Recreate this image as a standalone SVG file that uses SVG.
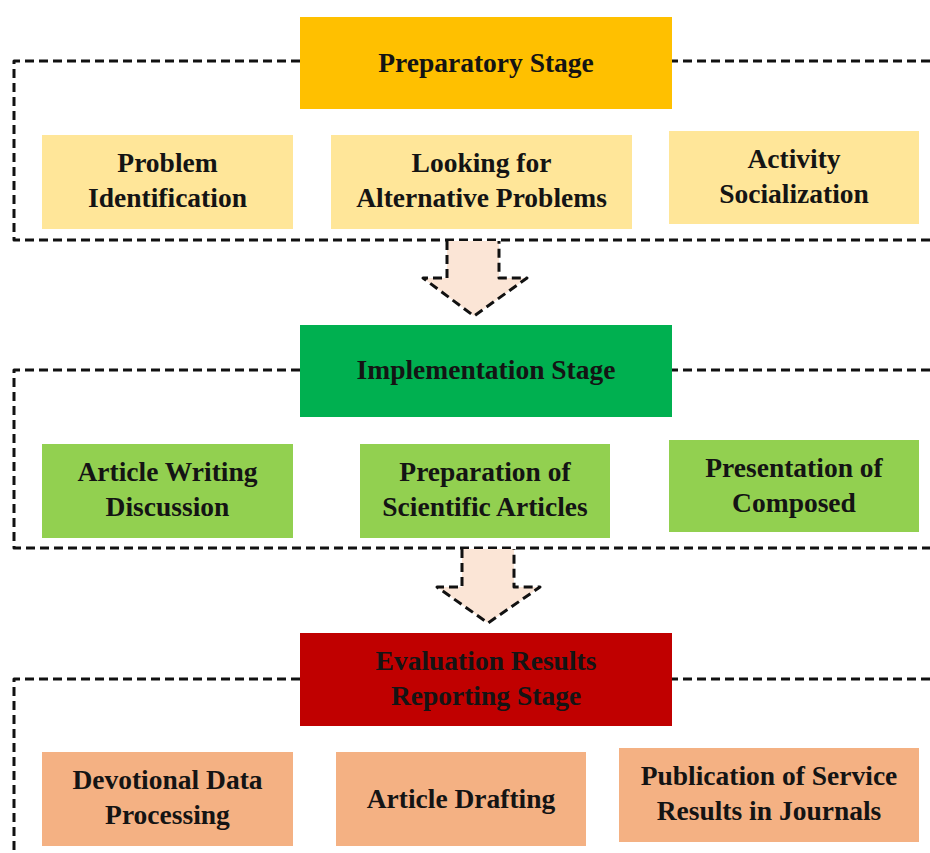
<svg xmlns="http://www.w3.org/2000/svg" width="930" height="853" viewBox="0 0 930 853">
<style>
.dash{fill:none;stroke:#111;stroke-width:3;stroke-dasharray:9 5;stroke-linejoin:round}
.arr{fill:#FBE5D6;stroke:none}
.t{font-family:"Liberation Serif","Times New Roman",serif;font-weight:bold;font-size:27.5px;fill:#141414;text-anchor:middle}
.yel{fill:#FFE699}.grn{fill:#92D050}.org{fill:#F4B183}
</style>
<rect width="930" height="853" fill="#fff"/>
<g id="connectors">
<path class="dash" d="M930 61 H14 V240 H930"/>
<path class="dash" d="M930 370 H14 V548 H930"/>
<path class="dash" d="M930 679 H14 V853"/>
<polygon class="arr" points="447,241 499,241 499,278 527,278 474,316 423,278 447,278"/>
<path class="dash" d="M447 241 V278 H423 L474 316 L527 278 H499 V241"/>
<polygon class="arr" points="462,549 514,549 514,587 540,587 488,623 437,587 462,587"/>
<path class="dash" d="M462 549 V587 H437 L488 623 L540 587 H514 V549"/>
</g>
<g id="preparatory">
<rect x="300" y="17" width="372" height="92" fill="#FFC000"/>
<text class="t" x="486" y="72">Preparatory Stage</text>
</g>
<g id="problem-identification">
<rect class="yel" x="42" y="135" width="251" height="94"/>
<text class="t" x="167.5" y="172">Problem</text>
<text class="t" x="167.5" y="207">Identification</text>
</g>
<g id="alternative-problems">
<rect class="yel" x="331" y="135" width="301" height="94"/>
<text class="t" x="481.5" y="172">Looking for</text>
<text class="t" x="481.5" y="207">Alternative Problems</text>
</g>
<g id="activity-socialization">
<rect class="yel" x="669" y="131" width="250" height="93"/>
<text class="t" x="794" y="168">Activity</text>
<text class="t" x="794" y="203">Socialization</text>
</g>
<g id="implementation">
<rect x="300" y="325" width="372" height="92" fill="#00B050"/>
<text class="t" x="486" y="379">Implementation Stage</text>
</g>
<g id="article-writing">
<rect class="grn" x="42" y="444" width="251" height="94"/>
<text class="t" x="167.5" y="481">Article Writing</text>
<text class="t" x="167.5" y="516">Discussion</text>
</g>
<g id="preparation-articles">
<rect class="grn" x="360" y="444" width="250" height="94"/>
<text class="t" x="485" y="481">Preparation of</text>
<text class="t" x="485" y="516">Scientific Articles</text>
</g>
<g id="presentation">
<rect class="grn" x="669" y="440" width="250" height="92"/>
<text class="t" x="794" y="477">Presentation of</text>
<text class="t" x="794" y="512">Composed</text>
</g>
<g id="evaluation">
<rect x="300" y="633" width="372" height="93" fill="#C00000"/>
<text class="t" x="486" y="670">Evaluation Results</text>
<text class="t" x="486" y="705">Reporting Stage</text>
</g>
<g id="devotional">
<rect class="org" x="42" y="752" width="251" height="94"/>
<text class="t" x="167.5" y="789">Devotional Data</text>
<text class="t" x="167.5" y="824">Processing</text>
</g>
<g id="article-drafting">
<rect class="org" x="336" y="752" width="250" height="94"/>
<text class="t" x="461" y="808">Article Drafting</text>
</g>
<g id="publication">
<rect class="org" x="619" y="748" width="300" height="94"/>
<text class="t" x="769" y="785">Publication of Service</text>
<text class="t" x="769" y="820">Results in Journals</text>
</g>
</svg>
